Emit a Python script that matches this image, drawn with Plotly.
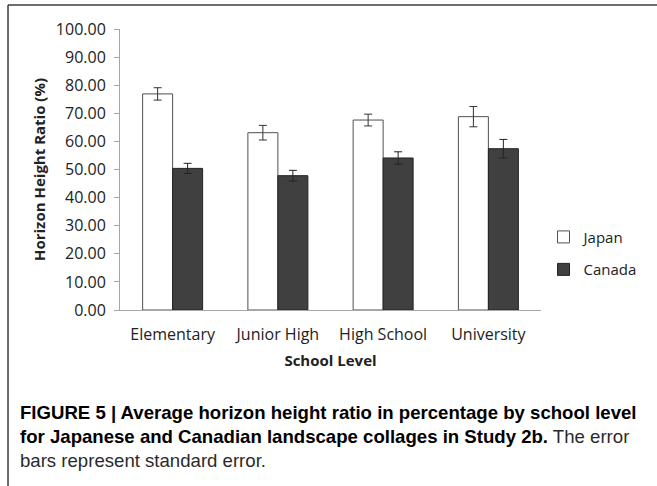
import plotly.graph_objects as go

# data
school_levels = ["Elementary", "Junior High", "High School", "University"]
japan_means = [76.9, 63.1, 67.6, 68.8]
japan_se = [2.2, 2.6, 2.1, 3.6]
canada_means = [50.4, 47.8, 54.1, 57.4]
canada_se = [1.8, 1.9, 2.2, 3.3]

y_ticks = [0, 10, 20, 30, 40, 50, 60, 70, 80, 90, 100]

chart_font = "Open Sans, Lato, sans-serif"
caption_font = "Liberation Sans Narrow, Liberation Sans, Arial, sans-serif"

fig = go.Figure()

fig.add_trace(go.Bar(
    x=school_levels, y=japan_means, name="Japan", legendgroup="jp",
    marker=dict(color="white", line=dict(color="#505050", width=1)),
    error_y=dict(type="data", array=japan_se, color="#333333", thickness=1, width=4),
))
fig.add_trace(go.Bar(
    x=school_levels, y=canada_means, name="Canada", legendgroup="ca",
    marker=dict(color="#404040", line=dict(color="#222222", width=1)),
    error_y=dict(type="data", array=canada_se, color="#222222", thickness=1, width=4),
))

caption = ("<b>FIGURE 5 | Average horizon height ratio in percentage by school level<br>"
           "for Japanese and Canadian landscape collages in Study 2b.</b> "
           "<span style='color:#2a2a2a'>The error<br>bars represent standard error.</span>")

fig.update_layout(
    width=657, height=486,
    margin=dict(l=120, r=116, t=29, b=176),
    paper_bgcolor="white", plot_bgcolor="white",
    barmode="group", bargap=0.43, bargroupgap=0,
    font=dict(family=chart_font, size=15, color="#222222"),
    legend=dict(x=1.006, y=0.318, xanchor="left", yanchor="top",
                tracegroupgap=10, font=dict(size=15, color="#222222"),
                itemwidth=30, bgcolor="rgba(0,0,0,0)"),
    xaxis=dict(
        showline=True, linecolor="#a6a6a6", linewidth=1,
        ticks="", showgrid=False, ticklabelstandoff=10,
        title=dict(text="<b>School Level</b>", font=dict(size=15), standoff=11),
        tickfont=dict(size=16),
    ),
    yaxis=dict(
        range=[0, 100], tickvals=y_ticks, tickformat=".2f",
        showline=True, linecolor="#a6a6a6", linewidth=1,
        ticks="outside", ticklen=5, tickcolor="#a6a6a6",
        showgrid=False, zeroline=False, ticklabelstandoff=5,
        title=dict(text="<b>Horizon Height Ratio (%)</b>", font=dict(size=15), standoff=6),
        tickfont=dict(size=16),
    ),
    showlegend=True,
)

# caption below the chart
fig.add_annotation(
    text=caption, xref="paper", yref="paper",
    x=-0.2425, y=-0.322, xanchor="left", yanchor="top",
    align="left", showarrow=False,
    font=dict(family=caption_font, size=18.6, color="black"),
)

# frame lines (top and left) of the figure panel
fig.add_shape(type="line", xref="paper", yref="paper",
              x0=-0.266, x1=1.3, y0=1.085, y1=1.085,
              line=dict(color="#6e6e6e", width=2))
fig.add_shape(type="line", xref="paper", yref="paper",
              x0=-0.266, x1=-0.266, y0=1.085, y1=-0.64,
              line=dict(color="#3a3a3a", width=1.5))

# page body has a default margin; remove it so the figure sits at the corner
fig.write_html("out.html", config={"displayModeBar": False},
               post_script="document.body.style.margin='0';")
